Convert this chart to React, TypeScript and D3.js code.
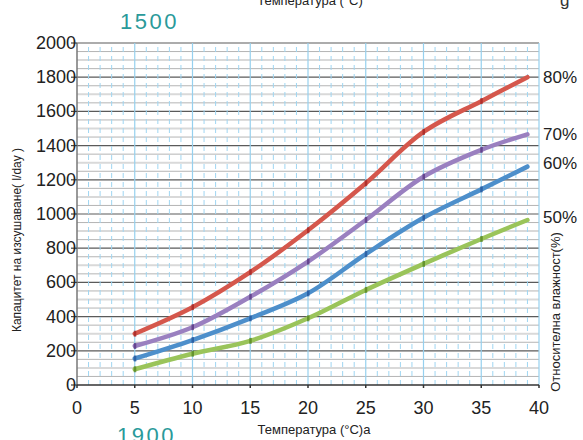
import React from "react";
import * as d3 from "d3";

const temps = [5, 10, 15, 20, 25, 30, 35, 39];
const rh80 = [300, 455, 660, 905, 1180, 1480, 1660, 1800];
const rh70 = [228, 338, 516, 722, 965, 1218, 1375, 1466];
const rh60 = [155, 263, 390, 536, 766, 978, 1144, 1277];
const rh50 = [92, 183, 258, 390, 556, 708, 854, 965];
const seriesNames = ["80%", "70%", "60%", "50%"];
const seriesColors = ["#d5574c", "#9a80c0", "#4d8fcb", "#9ac45a"];
const markColors = ["#9e1f1f", "#4f2c7a", "#1f4f96", "#4f7f1a"];
const labelValues = [1800, 1470, 1300, 980];
const xTicks = [0, 5, 10, 15, 20, 25, 30, 35, 40];
const yTicks = [0, 200, 400, 600, 800, 1000, 1200, 1400, 1600, 1800, 2000];

const W = 583;
const H = 440;
const font = "'Liberation Sans', Arial, sans-serif";

export default function App() {
  const x = d3.scaleLinear().domain([0, 40]).range([77, 539]);
  const y = d3.scaleLinear().domain([0, 2000]).range([385, 43]);
  const all = [rh80, rh70, rh60, rh50];
  const line = d3
    .line<number>()
    .x((_, i) => x(temps[i]))
    .y((d) => y(d))
    .curve(d3.curveCatmullRom.alpha(0.5));

  const minorX = d3.range(1, 40).filter((v) => v % 5 !== 0);
  const majorX = d3.range(5, 41, 5);
  const hLines = d3.range(50, 2001, 50);

  return (
    <svg width={W} height={H} style={{ position: "absolute", left: 0, top: 0 }} fontFamily={font}>
      <rect width={W} height={H} fill="#fff" />
      {/* horizontal grid */}
      {hLines.map((v) => {
        const major = v % 200 === 0;
        const mid = !major && v % 100 === 0;
        return (
          <line
            key={"h" + v}
            x1={x(0)}
            x2={x(40)}
            y1={y(v)}
            y2={y(v)}
            stroke={major ? "#5a5a5a" : mid ? "#d9d9d9" : "#b4b4b4"}
            strokeWidth={major ? 1.2 : mid ? 2 : 1}
          />
        );
      })}
      {/* vertical grid */}
      {minorX.map((v) => (
        <line key={"vm" + v} x1={x(v)} x2={x(v)} y1={y(0)} y2={y(2000)} stroke="#9fd6f2" strokeWidth={1} strokeDasharray="5,4" />
      ))}
      {majorX.map((v) => (
        <line key={"vM" + v} x1={x(v)} x2={x(v)} y1={y(0)} y2={y(2000)} stroke="#96d0ee" strokeWidth={1.2} />
      ))}
      {/* axes */}
      <line x1={x(0)} x2={x(0)} y1={y(0)} y2={y(2000)} stroke="#777" strokeWidth={1.5} />
      <line x1={x(0)} x2={x(40)} y1={y(0)} y2={y(0)} stroke="#333" strokeWidth={1.5} />
      {yTicks.map((v) => (
        <g key={"yt" + v}>
          <line x1={x(0) - 6} x2={x(0)} y1={y(v)} y2={y(v)} stroke="#444" strokeWidth={1.2} />
          <text x={x(0) - 1} y={y(v) + 6} fontSize={18} textAnchor="end" fill="#222">
            {v}
          </text>
        </g>
      ))}
      {xTicks.map((v) => (
        <g key={"xt" + v}>
          <line x1={x(v)} x2={x(v)} y1={y(0)} y2={y(0) + 3} stroke="#333" strokeWidth={1.5} />
          <text x={x(v)} y={y(0) + 29} fontSize={18} textAnchor="middle" fill="#222">
            {v}
          </text>
        </g>
      ))}
      {/* series */}
      {all.map((s, si) => (
        <g key={"s" + si}>
          <path d={line(s) || ""} fill="none" stroke={seriesColors[si]} strokeWidth={4.5} strokeLinecap="round" />
          {s.slice(0, 7).map((v, i) => (
            <rect
              key={i}
              x={x(temps[i]) - 1}
              y={y(v) - 3}
              width={2.5}
              height={6}
              fill={markColors[si]}
              opacity={0.7}
            />
          ))}
        </g>
      ))}
      {/* series labels */}
      {seriesNames.map((n, i) => (
        <text key={n} x={543} y={y(labelValues[i]) + 6} fontSize={17} fill="#222">
          {n}
        </text>
      ))}
      {/* titles */}
      <text x={310} y={5} fontSize={13} textAnchor="middle" fill="#222">
        Температура (°C)
      </text>
      <text x={560} y={6} fontSize={17} fill="#333">
        g
      </text>
      <text x={120} y={29} fontSize={22} letterSpacing={2.5} fill="#2a9a9a">
        1500
      </text>
      <text x={117} y={443} fontSize={22} letterSpacing={2.5} fill="#2a9a9a">
        1900
      </text>
      <text x={314} y={434} fontSize={13} textAnchor="middle" fill="#222">
        Температура (°C)a
      </text>
      <text
        transform={`translate(21,240) rotate(-90)`}
        fontSize={12}
        textAnchor="middle"
        fill="#222"
      >
        Капацитет на изсушаване( l/day )
      </text>
      <text
        transform={`translate(560,312) rotate(-90)`}
        fontSize={13}
        textAnchor="middle"
        fill="#222"
      >
        Относителна влажност(%)
      </text>
    </svg>
  );
}
